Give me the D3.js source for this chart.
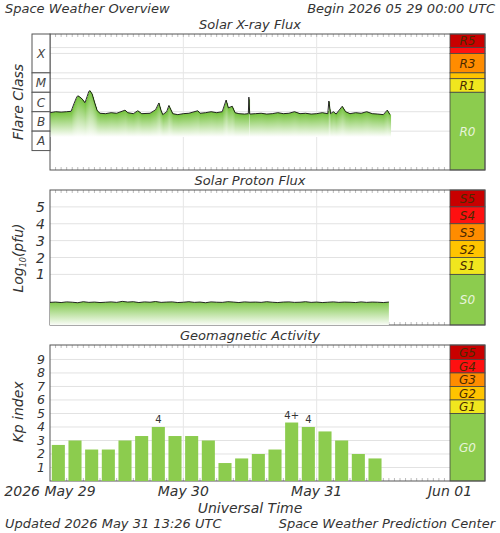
<!DOCTYPE html>
<html><head><meta charset="utf-8">
<script src="https://cdn.jsdelivr.net/npm/d3@7"></script>
<style>body{margin:0;background:#fff}svg{display:block;font-family:"DejaVu Sans",sans-serif;font-style:italic}</style>
</head><body><svg id="c" width="500" height="533"></svg>
<script>
const W = 500, H = 533;
const X0 = 50, X1 = 450, BAR1 = 485;

// Days on the time axis
const DAY_LABELS = ['2026 May 29', 'May 30', 'May 31', 'Jun 01'];

// X-ray flux: hours since start, log10(W/m2)
const XRAY_T = [0,1,2,3,3.8,4.3,4.8,5.0,5.4,5.8,6.3,6.7,7.0,7.2,7.6,8.0,8.5,9,10,11,12,13.5,14,15,15.8,16.5,18,19,19.6,20,20.3,21,21.4,22.1,23,24,25,26.6,27,28,29,30,31,31.7,32.1,32.8,33.3,34,35,35.7,35.8,35.95,37,38,39,40,41,42,43,44,45,46,47,48,49,50.0,50.2,50.5,51,51.5,52.6,53.2,54,55,56,57,58,59,60,60.7,61.2];
const XRAY_V = [-6.05,-6.0,-6.02,-6.0,-5.98,-5.6,-5.25,-5.18,-5.25,-5.35,-5.54,-5.2,-4.95,-4.92,-5.1,-5.5,-5.95,-6.08,-6.1,-6.05,-6.08,-5.92,-6.05,-6.1,-5.95,-6.1,-6.08,-5.9,-5.55,-5.95,-6.15,-6.0,-5.68,-6.1,-6.15,-6.1,-6.08,-5.95,-6.08,-6.05,-6.0,-6.05,-6.0,-5.4,-5.8,-5.72,-6.05,-6.1,-6.12,-6.1,-5.25,-6.12,-6.1,-6.08,-6.12,-6.1,-6.05,-6.1,-6.08,-6.0,-6.1,-6.08,-6.12,-6.1,-6.05,-6.1,-5.45,-6.1,-6.0,-6.12,-5.72,-6.0,-6.1,-6.05,-6.08,-6.0,-6.1,-6.12,-6.15,-5.92,-6.15];
const FLARE_CLASSES = ['X','M','C','B','A'];
const FLARE_EDGES = [-2,-4,-5,-6,-7,-8];
const R_LEVELS = ['R5','R4','R3','R2','R1','R0'];
const R_EDGES = [-2, -2.7, -3, -4, -4.3, -5, -9];

// Proton flux: hourly log10(pfu)
const PROTON_V = [-0.66,-0.64,-0.67,-0.63,-0.65,-0.68,-0.62,-0.66,-0.64,-0.67,-0.65,-0.63,-0.66,-0.6,-0.64,-0.62,-0.67,-0.63,-0.65,-0.61,-0.66,-0.64,-0.63,-0.67,-0.65,-0.62,-0.66,-0.64,-0.68,-0.63,-0.65,-0.66,-0.62,-0.64,-0.67,-0.63,-0.65,-0.64,-0.66,-0.62,-0.65,-0.67,-0.64,-0.63,-0.66,-0.65,-0.62,-0.66,-0.64,-0.67,-0.65,-0.63,-0.66,-0.64,-0.65,-0.67,-0.63,-0.66,-0.64,-0.65,-0.67,-0.64];
const S_LEVELS = ['S5','S4','S3','S2','S1','S0'];
const S_EDGES = [6,5,4,3,2,1,-2];

// Kp index, 3-hour bins
const KP_V = [2.67,3,2.33,2.33,3,3.33,4,3.33,3.33,3,1.33,1.67,2,2.33,4.33,4,3.67,3,2,1.67];
const KP_TAGS = {6:'4', 14:'4+', 15:'4'};
const G_LEVELS = ['G5','G4','G3','G2','G1','G0'];
const G_EDGES = [10.07,9,8,7,6,5,0];

const LEVEL_COLORS = ['#c80000','#ff1010','#ff8c00','#ffc400','#f0e61e','#8ccc4e'];

const svg = d3.select('#c');
const x = d3.scaleLinear().domain([0, 72]).range([X0, X1]);

const defs = svg.append('defs');
function grad(id, y1, y2) {
  const g = defs.append('linearGradient').attr('id', id)
    .attr('x1',0).attr('x2',0).attr('y1',0).attr('y2',1);
  if (y1 != null) g.attr('gradientUnits','userSpaceOnUse').attr('y1',y1).attr('y2',y2);
  g.append('stop').attr('offset',0).attr('stop-color','#74c23c');
  g.append('stop').attr('offset',1).attr('stop-color','#ffffff');
}

function panel(top, bottom, title, yDomain, levels, edges, gridVals) {
  const y = d3.scaleLinear().domain(yDomain).range([bottom, top]);
  const g = svg.append('g');
  g.append('text').attr('x', 250).attr('y', top - 5).attr('text-anchor','middle')
    .attr('font-size', 13).attr('fill','#333').text(title);
  gridVals.forEach(v => g.append('line').attr('x1',X0).attr('x2',X1)
    .attr('y1',y(v)).attr('y2',y(v)).attr('stroke','#e2e2e2'));
  [24, 48].forEach(h => g.append('line').attr('x1',x(h)).attr('x2',x(h))
    .attr('y1',top).attr('y2',bottom).attr('stroke','#e6e6e6'));
  d3.range(1, 72).forEach(h => {
    g.append('line').attr('x1',x(h)).attr('x2',x(h)).attr('y1',top).attr('y2',top+3).attr('stroke','#bbb');
    g.append('line').attr('x1',x(h)).attr('x2',x(h)).attr('y1',bottom-3).attr('y2',bottom).attr('stroke','#bbb');
  });
  levels.forEach((lv, i) => {
    const yt = y(edges[i]), yb = y(edges[i+1]);
    g.append('rect').attr('x',X1).attr('y',yt).attr('width',BAR1-X1).attr('height',yb-yt)
      .attr('fill',LEVEL_COLORS[i]).attr('stroke','#444').attr('stroke-width',0.8);
    if (yb - yt > 10)
      g.append('text').attr('x',(X1+BAR1)/2).attr('y',(yt+yb)/2+4.5).attr('text-anchor','middle')
        .attr('font-size',12).attr('fill', i === 5 ? '#e8f4dc' : '#4a2a00').text(lv);
  });
  g.append('rect').attr('x',X0).attr('y',top).attr('width',BAR1-X0).attr('height',bottom-top)
    .attr('fill','none').attr('stroke','#555');
  return {g, y};
}

// ---- X-ray ----
const xr = panel(34, 170, 'Solar X-ray Flux', [-9, -2], R_LEVELS, R_EDGES, [-3,-4,-5,-6,-7,-2.7,-4.3]);
grad('gx');
const xrPts = XRAY_T.map((t, i) => [t, XRAY_V[i]]);
// column-wise fade from the curve down to a fixed floor
const fadeFloor = xr.y(-7.3);
const xrLine = d3.line().x(d => x(d[0])).y(d => xr.y(d[1]));
const bis = d3.bisector(d => d[0]).right;
d3.range(x(0), x(XRAY_T[XRAY_T.length-1]), 1).forEach(px => {
  const t = x.invert(px);
  const i = Math.min(Math.max(bis(xrPts, t), 1), xrPts.length-1);
  const a = xrPts[i-1], b = xrPts[i];
  const v = a[1] + (b[1]-a[1]) * (t-a[0]) / (b[0]-a[0]);
  xr.g.append('rect').attr('x',px).attr('width',1.05).attr('y',xr.y(v))
    .attr('height',fadeFloor - xr.y(v)).attr('fill','url(#gx)');
});
xr.g.append('path').datum(xrPts).attr('fill','none').attr('stroke','#111').attr('stroke-width',0.9)
  .attr('d', xrLine);
FLARE_CLASSES.forEach((c, i) => {
  const yt = xr.y(FLARE_EDGES[i]), yb = xr.y(FLARE_EDGES[i+1]);
  xr.g.append('rect').attr('x',32).attr('y',yt).attr('width',18).attr('height',yb-yt)
    .attr('fill','#fff').attr('stroke','#555');
  xr.g.append('text').attr('x',41).attr('y',(yt+yb)/2+4.5).attr('text-anchor','middle')
    .attr('font-size',12).attr('fill','#444').text(c);
});
svg.append('text').attr('transform','translate(23,102) rotate(-90)').attr('text-anchor','middle')
  .attr('font-size',14).attr('fill','#333').text('Flare Class');

// ---- Proton ----
const pr = panel(190, 325, 'Solar Proton Flux', [-2, 6], S_LEVELS, S_EDGES, [1,2,3,4,5]);
grad('gp', 300, 326);
const prPts = PROTON_V.map((v, i) => [i, v]);
pr.g.append('path').datum(prPts).attr('fill','url(#gp)')
  .attr('d', d3.area().x(d => x(d[0])).y1(d => pr.y(d[1])).y0(325));
pr.g.append('path').datum(prPts).attr('fill','none').attr('stroke','#111').attr('stroke-width',0.9)
  .attr('d', d3.line().x(d => x(d[0])).y(d => pr.y(d[1])));
[1,2,3,4,5].forEach(v => pr.g.append('text').attr('x',45).attr('y',pr.y(v)+5).attr('text-anchor','end')
  .attr('font-size',14).attr('fill','#333').text(v));
const pl = svg.append('text').attr('transform','translate(23,258) rotate(-90)').attr('text-anchor','middle')
  .attr('font-size',14).attr('fill','#333');
pl.append('tspan').text('Log');
pl.append('tspan').attr('font-size',8).attr('dy',3).text('10');
pl.append('tspan').attr('dy',-3).text('(pfu)');

// ---- Kp ----
const kp = panel(345, 481, 'Geomagnetic Activity', [0, 10.07], G_LEVELS, G_EDGES, d3.range(1,10));
kp.g.selectAll('rect.bar').data(KP_V).join('rect').attr('class','bar')
  .attr('x',(d,i) => x(i*3) + 1.8).attr('width', x(3) - x(0) - 3.6)
  .attr('y', d => kp.y(d)).attr('height', d => 481 - kp.y(d)).attr('fill','#8ccc4e');
Object.entries(KP_TAGS).forEach(([i, t]) => kp.g.append('text')
  .attr('x', x(+i*3 + 1.5)).attr('y', kp.y(KP_V[i]) - 4).attr('text-anchor','middle')
  .attr('font-size',10).attr('font-style','normal').attr('fill','#333').text(t));
d3.range(1,10).forEach(v => kp.g.append('text').attr('x',45).attr('y',kp.y(v)+4.5).attr('text-anchor','end')
  .attr('font-size',12.5).attr('fill','#333').text(v));
svg.append('text').attr('transform','translate(23,412) rotate(-90)').attr('text-anchor','middle')
  .attr('font-size',14).attr('fill','#333').text('Kp index');

// ---- texts ----
DAY_LABELS.forEach((t, i) => svg.append('text').attr('x', x(i*24)).attr('y', 496).attr('text-anchor','middle')
  .attr('font-size',14).attr('fill','#333').text(t));
svg.append('text').attr('x',250).attr('y',513).attr('text-anchor','middle').attr('font-size',14).attr('fill','#333').text('Universal Time');
svg.append('text').attr('x',5).attr('y',13).attr('font-size',13).attr('fill','#333').text('Space Weather Overview');
svg.append('text').attr('x',495).attr('y',13).attr('text-anchor','end').attr('font-size',13).attr('fill','#333').text('Begin 2026 05 29 00:00 UTC');
svg.append('text').attr('x',5).attr('y',528).attr('font-size',13).attr('fill','#333').text('Updated 2026 May 31 13:26 UTC');
svg.append('text').attr('x',495).attr('y',528).attr('text-anchor','end').attr('font-size',13).attr('fill','#333').text('Space Weather Prediction Center');
</script></body></html>
